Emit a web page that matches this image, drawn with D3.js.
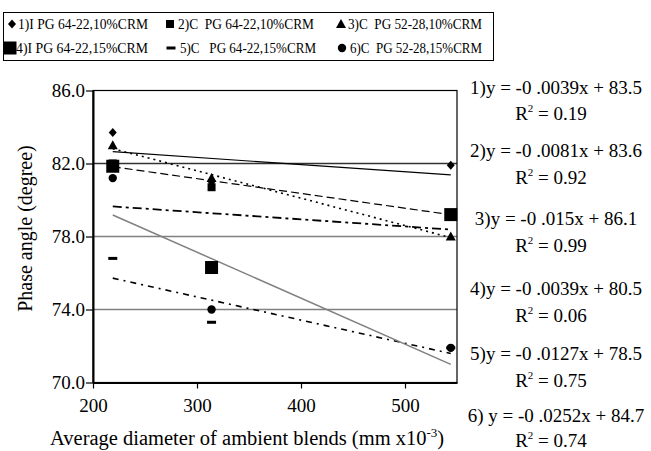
<!DOCTYPE html>
<html>
<head>
<meta charset="utf-8">
<script src="https://cdn.jsdelivr.net/npm/d3@7"></script>
<style>
  body { margin: 0; background: #fff; }
  svg, svg text { font-family: 'Liberation Serif', 'Times New Roman', Times, 'DejaVu Serif', serif; }
</style>
</head>
<body>
<div id="chart"></div>
<script>
// blend diameters (mm x10^-3)
const diameters = [219, 314, 544];

const seriesNames = [
    '1)I PG 64-22,10%CRM',
    '2)C  PG 64-22,10%CRM',
    '3)C  PG 52-28,10%CRM',
    '4)I PG 64-22,15%CRM',
    '5)C   PG 64-22,15%CRM',
    '6)C  PG 52-28,15%CRM'
];

// phase angle (degree) per series
const s1 = [83.7, 81.0, 81.9];
const s2 = [82.0, 80.7, 79.2];
const s3 = [83.0, 81.2, 78.0];
const s4 = [81.85, 76.3, 79.2];
const s5 = [76.8, 73.3, 71.9];
const s6 = [81.2, 74.0, 71.9];

// printed trend equations y = a x + b
const slopes = [-0.0039, -0.0081, -0.015, -0.0039, -0.0127, -0.0252];
const intercepts = [83.5, 83.6, 86.1, 80.5, 78.5, 84.7];
const equationLabels = [
    '1)y = -0 .0039x + 83.5',
    '2)y = -0 .0081x + 83.6',
    '3)y = -0 .015x + 86.1',
    '4)y = -0 .0039x + 80.5',
    '5)y = -0 .0127x + 78.5',
    '6) y = -0 .0252x + 84.7'
];
const r2Labels = ['0.19', '0.92', '0.99', '0.06', '0.75', '0.74'];

const xTicks = [200, 300, 400, 500];
const yTicks = [70, 74, 78, 82, 86];
const gridValues = [74, 78, 82];

const allSeries = [s1, s2, s3, s4, s5, s6];

const FONT = "'Liberation Serif', 'Times New Roman', Times, 'DejaVu Serif', serif";
const width = 651, height = 451;
const plot = { left: 93, right: 457, top: 90.5, bottom: 382.5 };

const svg = d3.select('#chart').append('svg')
    .attr('width', width)
    .attr('height', height)
    .attr('font-family', FONT);

const x = d3.scaleLinear().domain([200, 550]).range([plot.left, plot.right]);
const y = d3.scaleLinear().domain([70, 86]).range([plot.bottom, plot.top]);

// marker shapes
function drawMarker(g, kind, cx, cy) {
    if (kind === 'diamond') {
        g.append('path').attr('d', `M${cx},${cy - 4.5}L${cx + 4},${cy}L${cx},${cy + 4.5}L${cx - 4},${cy}Z`).attr('fill', '#000');
    } else if (kind === 'square') {
        g.append('rect').attr('x', cx - 4).attr('y', cy - 4).attr('width', 8).attr('height', 8).attr('fill', '#000');
    } else if (kind === 'triangle') {
        g.append('path').attr('d', `M${cx},${cy - 5}L${cx + 5},${cy + 4}L${cx - 5},${cy + 4}Z`).attr('fill', '#000');
    } else if (kind === 'bigsquare') {
        g.append('rect').attr('x', cx - 6.5).attr('y', cy - 6.5).attr('width', 13).attr('height', 13).attr('fill', '#000');
    } else if (kind === 'dash') {
        g.append('rect').attr('x', cx - 4.5).attr('y', cy - 1.5).attr('width', 9).attr('height', 3).attr('fill', '#000');
    } else if (kind === 'circle') {
        g.append('circle').attr('cx', cx).attr('cy', cy).attr('r', 4.2).attr('fill', '#000');
    }
}
const markerKinds = ['diamond', 'square', 'triangle', 'bigsquare', 'dash', 'circle'];

const lineStyles = [
    { color: '#000', width: 1.2, dash: null },
    { color: '#000', width: 1.2, dash: '8,4' },
    { color: '#000', width: 1.6, dash: '2,4' },
    { color: '#000', width: 1.8, dash: '9,4,3,4' },
    { color: '#000', width: 1.6, dash: '6,5,2,5' },
    { color: '#808080', width: 1.5, dash: null }
];

// Legend box
svg.append('rect')
    .attr('x', 3.5).attr('y', 12.5)
    .attr('width', 490).attr('height', 48)
    .attr('fill', 'none').attr('stroke', '#000').attr('stroke-width', 1);

const legendPos = [
    { mx: 12, tx: 18, w: 130, row: 0 }, { mx: 170, tx: 178, w: 136, row: 0 }, { mx: 341, tx: 348, w: 134, row: 0 },
    { mx: 10, tx: 16, w: 132, row: 1 }, { mx: 171, tx: 180, w: 136, row: 1 }, { mx: 342, tx: 350, w: 132, row: 1 }
];
const legend = svg.append('g').attr('class', 'legend');
seriesNames.forEach((name, i) => {
    const p = legendPos[i];
    const by = p.row === 0 ? 29 : 53;
    drawMarker(legend, markerKinds[i], p.mx, by - 5);
    legend.append('text')
        .attr('x', p.tx).attr('y', by)
        .attr('font-size', '14.5px')
        .attr('textLength', p.w)
        .attr('lengthAdjust', 'spacingAndGlyphs')
        .style('white-space', 'pre')
        .text(name);
});

// Grid lines
svg.append('g').selectAll('line')
    .data(gridValues)
    .enter().append('line')
    .attr('x1', plot.left).attr('x2', plot.right)
    .attr('y1', d => y(d)).attr('y2', d => y(d))
    .attr('stroke', d => d === 82 ? '#333' : '#808080')
    .attr('stroke-width', 1.5);

// Frame (top/right)
svg.append('rect')
    .attr('x', plot.left).attr('y', plot.top)
    .attr('width', plot.right - plot.left).attr('height', plot.bottom - plot.top)
    .attr('fill', 'none').attr('stroke', '#000').attr('stroke-width', 1.2);

// Axes
const xAxis = d3.axisBottom(x).tickValues(xTicks).tickSize(6).tickSizeOuter(0).tickFormat(d3.format('d'));
svg.append('g')
    .attr('transform', `translate(0,${plot.bottom})`)
    .call(xAxis)
    .attr('font-family', FONT)
    .call(g => g.select('.domain').attr('stroke', '#000').attr('stroke-width', 2))
    .call(g => g.selectAll('.tick line').attr('stroke', '#000').attr('stroke-width', 1.2))
    .call(g => g.selectAll('text')
        .attr('fill', '#000')
        .attr('dy', null)
        .attr('y', 29)
        .style('font-family', FONT)
        .style('font-size', '19px'));

const yAxis = d3.axisLeft(y).tickValues(yTicks).tickSize(7).tickSizeOuter(0).tickFormat(d3.format('.1f'));
svg.append('g')
    .attr('transform', `translate(${plot.left},0)`)
    .call(yAxis)
    .attr('font-family', FONT)
    .call(g => g.select('.domain').attr('stroke', '#000').attr('stroke-width', 2))
    .call(g => g.selectAll('.tick line').attr('stroke', '#000').attr('stroke-width', 1.2))
    .call(g => g.selectAll('text')
        .attr('fill', '#000')
        .attr('x', -8)
        .attr('dy', '0.33em')
        .style('font-family', FONT)
        .style('font-size', '19px'));

// Trend lines
const xMin = d3.min(diameters), xMax = d3.max(diameters);
const trend = svg.append('g').attr('class', 'trend');
slopes.forEach((a, i) => {
    const st = lineStyles[i];
    trend.append('line')
        .attr('x1', x(xMin)).attr('y1', y(a * xMin + intercepts[i]))
        .attr('x2', x(xMax)).attr('y2', y(a * xMax + intercepts[i]))
        .attr('stroke', st.color)
        .attr('stroke-width', st.width)
        .attr('stroke-dasharray', st.dash);
});

// Data markers
const marks = svg.append('g').attr('class', 'marks');
allSeries.forEach((vals, i) => {
    vals.forEach((v, j) => drawMarker(marks, markerKinds[i], x(diameters[j]), y(v)));
});

// Axis titles
const xTitle = svg.append('text')
    .attr('x', 50).attr('y', 445)
    .attr('font-size', '20.5px');
xTitle.append('tspan').text('Average diameter of ambient blends (mm x10');
xTitle.append('tspan').attr('dy', -8).attr('font-size', '13px').text('-3');
xTitle.append('tspan').attr('dy', 8).text(')');

svg.append('text')
    .attr('transform', `translate(32,${(plot.top + plot.bottom) / 2 - 8}) rotate(-90)`)
    .attr('text-anchor', 'middle')
    .attr('font-size', '20px')
    .text('Phase angle (degree)');

// Equations on the right
const eqBase = [94, 157, 225, 295, 360, 422];
const r2Base = [120, 184, 252, 322, 387, 447];
const notes = svg.append('g').attr('class', 'notes').attr('font-size', '19px');
equationLabels.forEach((t, i) => {
    notes.append('text')
        .attr('x', 556).attr('y', eqBase[i])
        .attr('text-anchor', 'middle')
        .style('white-space', 'pre')
        .text(t);
    const r = notes.append('text')
        .attr('x', 551).attr('y', r2Base[i])
        .attr('text-anchor', 'middle');
    r.append('tspan').text('R');
    r.append('tspan').attr('dy', -8).attr('font-size', '11px').text('2');
    r.append('tspan').attr('dy', 8).text(' = ' + r2Labels[i]);
});
</script>
</body>
</html>
